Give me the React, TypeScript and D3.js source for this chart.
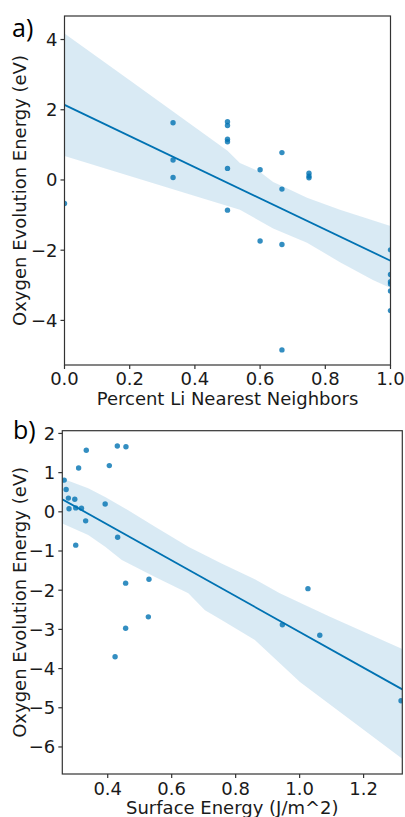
import { line, scaleLinear } from "d3";

// panel a) – fraction of Li nearest neighbours vs. O evolution energy
const liFraction = [
  0,
  0.333, 0.333, 0.333,
  0.5, 0.5, 0.5, 0.5, 0.5, 0.5,
  0.6, 0.6,
  0.667, 0.667, 0.667, 0.667,
  0.75, 0.75, 0.75,
  1, 1, 1, 1, 1, 1
];
const energyA = [
  -0.67,
  1.63, 0.57, 0.07,
  1.66, 1.55, 1.16, 1.09, 0.33, -0.86,
  0.29, -1.74,
  0.78, -0.26, -1.84, -4.84,
  0.19, 0.11, 0.06,
  -1.99, -2.69, -2.9, -2.96, -3.16, -3.72
];
const fitAX = [0, 1];
const fitAY = [2.14, -2.3];
const bandAUpperX = [0, 0.2, 0.4, 0.5, 0.538, 0.6, 0.64, 0.692, 0.744, 0.845, 1];
const bandAUpperY = [4.17, 2.84, 1.5, 0.83, 0.48, 0.23, -0.06, -0.28, -0.51, -0.85, -1.31];
const bandALowerX = [0, 0.2, 0.4, 0.538, 0.64, 0.744, 0.845, 0.946, 1];
const bandALowerY = [0.68, 0.11, -0.46, -0.85, -1.38, -1.79, -2.34, -2.85, -3.08];
const xTicksA = [0, 0.2, 0.4, 0.6, 0.8, 1.0];
const yTicksA = [-4, -2, 0, 2, 4];

// panel b) – surface energy vs. O evolution energy
const surfaceEnergy = [
  0.264, 0.27, 0.277, 0.279, 0.297, 0.3, 0.318, 0.3, 0.309, 0.331, 0.333,
  0.392, 0.405, 0.43, 0.457, 0.431, 0.456, 0.529, 0.527, 1.026, 0.423,
  0.456, 0.946, 1.063, 1.317
];
const energyB = [
  0.81, 0.57, 0.35, 0.08, 0.32, 0.1, 0.09, -0.85, 1.12, -0.23, 1.57,
  0.2, 1.18, 1.68, 1.66, -0.65, -1.82, -1.72, -2.68, -1.96, -3.7,
  -2.97, -2.88, -3.15, -4.82
];
const fitBX = [0.258, 1.321];
const fitBY = [0.32, -4.53];
const bandBUpperX = [0.258, 0.339, 0.392, 0.464, 0.548, 0.652, 0.756, 0.86, 0.938, 1.095, 1.321];
const bandBUpperY = [0.85, 0.6, 0.38, 0.04, -0.38, -0.89, -1.32, -1.72, -2.08, -2.68, -3.5];
const bandBLowerX = [0.258, 0.339, 0.392, 0.444, 0.548, 0.652, 0.704, 0.756, 0.86, 1.001, 1.321];
const bandBLowerY = [-0.3, -0.59, -0.89, -1.23, -1.66, -2.08, -2.51, -2.76, -3.27, -4.34, -6.3];
const xTicksB = [0.4, 0.6, 0.8, 1.0, 1.2];
const yTicksB = [-6, -5, -4, -3, -2, -1, 0, 1, 2];

const ACCENT = "#0072B2";
const SPINE = "#333333";
const FONT = "DejaVu Sans, sans-serif";
const TICK_LENGTH = 4;

type Box = { left: number; right: number; top: number; bottom: number };

type PanelProps = {
  id: string;
  tag: string;
  tagY: number;
  tagX: number;
  box: Box;
  xDomain: [number, number];
  yDomain: [number, number];
  xs: number[];
  ys: number[];
  fitX: number[];
  fitY: number[];
  upperX: number[];
  upperY: number[];
  lowerX: number[];
  lowerY: number[];
  xTicks: number[];
  yTicks: number[];
  xDigits: number;
  xLabel: string;
  yLabel: string;
  tickBaseline: number;
  labelBaseline: number;
};

function formatTick(value: number, digits: number) {
  const text = value.toFixed(digits);
  return value < 0 ? `\u2212${text.slice(1)}` : text;
}

function Panel(props: PanelProps) {
  const { box } = props;
  const xScale = scaleLinear().domain(props.xDomain).range([box.left, box.right]);
  const yScale = scaleLinear().domain(props.yDomain).range([box.bottom, box.top]);
  const toXY = (px: number[], py: number[]) => px.map((x, i) => [x, py[i]] as [number, number]);

  const path = line<[number, number]>()
    .x((d) => xScale(d[0]))
    .y((d) => yScale(d[1]));

  const bandPoints = [
    ...toXY(props.upperX, props.upperY),
    ...toXY(props.lowerX, props.lowerY).reverse()
  ];
  const bandPath = `${path(bandPoints)}Z`;
  const fitPath = path(toXY(props.fitX, props.fitY)) ?? "";
  const clipId = `clip-${props.id}`;
  const midY = (box.top + box.bottom) / 2;
  const midX = (box.left + box.right) / 2;

  return (
    <g>
      <defs>
        <clipPath id={clipId}>
          <rect x={box.left} y={box.top} width={box.right - box.left} height={box.bottom - box.top} />
        </clipPath>
      </defs>
      <g clipPath={`url(#${clipId})`}>
        <path d={bandPath} fill={ACCENT} fillOpacity={0.15} stroke="none" />
        <path d={fitPath} fill="none" stroke={ACCENT} strokeWidth={1.8} />
        {props.xs.map((x, i) => (
          <circle key={i} cx={xScale(x)} cy={yScale(props.ys[i])} r={2.7} fill={ACCENT} fillOpacity={0.8} />
        ))}
      </g>
      <rect
        x={box.left}
        y={box.top}
        width={box.right - box.left}
        height={box.bottom - box.top}
        fill="none"
        stroke={SPINE}
        strokeWidth={1.2}
      />
      {props.yTicks.map((t) => (
        <g key={`y${t}`}>
          <line x1={box.left - TICK_LENGTH} x2={box.left} y1={yScale(t)} y2={yScale(t)} stroke={SPINE} strokeWidth={1.2} />
          <text x={box.left - TICK_LENGTH - 3} y={yScale(t)} dy="0.36em" textAnchor="end" fontSize={18} fontFamily={FONT} fill="#1a1a1a">
            {formatTick(t, 0)}
          </text>
        </g>
      ))}
      {props.xTicks.map((t) => (
        <g key={`x${t}`}>
          <line x1={xScale(t)} x2={xScale(t)} y1={box.bottom} y2={box.bottom + TICK_LENGTH} stroke={SPINE} strokeWidth={1.2} />
          <text x={xScale(t)} y={props.tickBaseline} textAnchor="middle" fontSize={18} fontFamily={FONT} fill="#1a1a1a">
            {formatTick(t, props.xDigits)}
          </text>
        </g>
      ))}
      <text x={midX} y={props.labelBaseline} textAnchor="middle" fontSize={18} fontFamily={FONT} fill="#1a1a1a">
        {props.xLabel}
      </text>
      <text
        transform={`translate(25.8, ${midY}) rotate(-90)`}
        textAnchor="middle"
        fontSize={18}
        fontFamily={FONT}
        fill="#1a1a1a"
      >
        {props.yLabel}
      </text>
      <text x={props.tagX} y={props.tagY} fontSize={25} fontFamily="Open Sans, sans-serif" fill="#000">
        {props.tag}
      </text>
    </g>
  );
}

export default function App() {
  return (
    <svg
      width={405}
      height={817}
      viewBox="0 0 405 817"
      style={{ position: "absolute", left: 0, top: 0, background: "#fff" }}
    >
      <rect width={405} height={817} fill="#fff" />
      <Panel
        id="a"
        tag="a)"
        tagX={12}
        tagY={37}
        box={{ left: 64.5, right: 390.5, top: 16, bottom: 365 }}
        xDomain={[0, 1]}
        yDomain={[-5.27, 4.67]}
        xs={liFraction}
        ys={energyA}
        fitX={fitAX}
        fitY={fitAY}
        upperX={bandAUpperX}
        upperY={bandAUpperY}
        lowerX={bandALowerX}
        lowerY={bandALowerY}
        xTicks={xTicksA}
        yTicks={yTicksA}
        xDigits={1}
        xLabel="Percent Li Nearest Neighbors"
        yLabel="Oxygen Evolution Energy (eV)"
        tickBaseline={384.5}
        labelBaseline={405}
      />
      <Panel
        id="b"
        tag="b)"
        tagX={13}
        tagY={439}
        box={{ left: 62.3, right: 402.3, top: 430.7, bottom: 774 }}
        xDomain={[0.258, 1.321]}
        yDomain={[-6.69, 2.07]}
        xs={surfaceEnergy}
        ys={energyB}
        fitX={fitBX}
        fitY={fitBY}
        upperX={bandBUpperX}
        upperY={bandBUpperY}
        lowerX={bandBLowerX}
        lowerY={bandBLowerY}
        xTicks={xTicksB}
        yTicks={yTicksB}
        xDigits={1}
        xLabel="Surface Energy (J/m^2)"
        yLabel="Oxygen Evolution Energy (eV)"
        tickBaseline={794.5}
        labelBaseline={814}
      />
    </svg>
  );
}
